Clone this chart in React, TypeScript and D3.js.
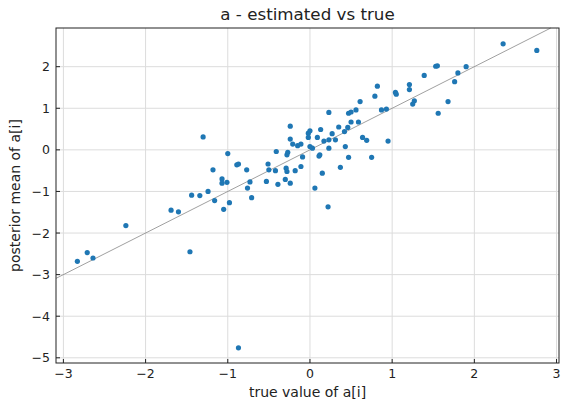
import React from "react";
import { scaleLinear } from "d3";

// true value of a[i]
const trueVals = [
  -1.69, -1.6, -1.3, -1.44, -1.34, -1.24, -1.18, -1.16, -1.07, -1.07, -1.01, -1.05, -0.98, -1.0,
  -0.89, -0.87, -0.77, -0.76, -0.73, -0.71, -0.53, -0.51, -0.5, -0.42, -0.41, -0.39, -0.3, -0.29,
  -0.28, -0.24, -0.28, -0.27, -0.24, -0.24, -0.21, -0.18, -0.15, -0.11, -0.11, -0.09,
  -0.02, 0.0, -0.02, 0.0, 0.03, 0.13, 0.09, 0.17, 0.23, 0.23, 0.23, 0.12, 0.11, 0.15, 0.06, 0.22,
  0.27, 0.31, 0.35, 0.42, 0.46, 0.43, 0.47, 0.37, 0.47, 0.5, 0.5, 0.56, 0.59, 0.61, 0.64, 0.69,
  0.75, 0.79, 0.82, 0.87, 0.93, 0.95, 1.04, 1.05, 1.21, 1.21, 1.27, 1.25, 1.39, 1.53, 1.55, 1.56,
  1.68, 1.76, 1.8, 1.9, 2.35, 2.76,
  -2.83, -2.71, -2.64, -2.24, -1.46, -0.87,
];
// posterior mean of a[i]
const postMeans = [
  -1.45, -1.49, 0.31, -1.09, -1.1, -1.0, -0.48, -1.22, -0.7, -0.8, -0.78, -1.43, -1.27, -0.09,
  -0.36, -0.34, -0.48, -0.92, -0.77, -1.15, -0.76, -0.34, -0.48, -0.5, -0.04, -0.83, -0.71, -0.44,
  -0.52, -0.8, -0.12, -0.06, 0.57, 0.26, 0.14, -0.5, 0.1, 0.14, -0.4, -0.17,
  0.4, 0.46, 0.3, 0.08, 0.04, 0.49, 0.3, 0.21, 0.24, 0.9, 0.04, -0.12, -0.15, -0.56, -0.92, -1.37,
  0.39, 0.24, 0.55, 0.44, 0.54, 0.08, -0.18, -0.42, 0.88, 0.91, 0.67, 0.96, 0.67, 1.16, 0.3, 0.23,
  -0.18, 1.29, 1.53, 0.96, 0.98, 0.21, 1.38, 1.34, 1.57, 1.45, 1.18, 1.1, 1.79, 2.01, 2.02, 0.88,
  1.16, 1.64, 1.85, 2.0, 2.55, 2.39,
  -2.68, -2.47, -2.6, -1.82, -2.45, -4.76,
];

const xTicks = [-3, -2, -1, 0, 1, 2, 3];
const yTicks = [-5, -4, -3, -2, -1, 0, 1, 2];
const xDomain = [-3.09, 3.03];
const yDomain = [-5.125, 2.93];

const W = 562;
const H = 402;
const m = { left: 56, right: 3, top: 28, bottom: 39 };
const font = "DejaVu Sans, sans-serif";
const fmt = (v: number) => String(v).replace("-", "\u2212");

export default function App() {
  const x = scaleLinear().domain(xDomain).range([m.left, W - m.right]);
  const y = scaleLinear().domain(yDomain).range([H - m.bottom, m.top]);
  const [x0, x1] = x.range();
  const [y0, y1] = y.range();
  const lo = Math.max(xDomain[0], yDomain[0]);
  const hi = Math.min(xDomain[1], yDomain[1]);

  return (
    <svg width={W} height={H} style={{ position: "absolute", left: 0, top: 0, background: "#fff" }} fontFamily={font}>
      {/* grid */}
      {xTicks.map(t => (
        <line key={"gx" + t} x1={x(t)} x2={x(t)} y1={y1} y2={y0} stroke="#dcdcdc" strokeWidth={1} />
      ))}
      {yTicks.map(t => (
        <line key={"gy" + t} x1={x0} x2={x1} y1={y(t)} y2={y(t)} stroke="#dcdcdc" strokeWidth={1} />
      ))}
      {/* identity line */}
      <line x1={x(lo)} y1={y(lo)} x2={x(hi)} y2={y(hi)} stroke="#888" strokeWidth={0.8} />
      {trueVals.map((v, i) => (
        <circle key={i} cx={x(v)} cy={y(postMeans[i])} r={2.6} fill="#1f77b4" />
      ))}
      {/* frame */}
      <rect x={x0} y={y1} width={x1 - x0} height={y0 - y1} fill="none" stroke="#222" strokeWidth={1} />
      {/* ticks */}
      {xTicks.map(t => (
        <g key={"tx" + t}>
          <line x1={x(t)} x2={x(t)} y1={y0} y2={y0 - 4} stroke="#222" />
          <text x={x(t)} y={y0 + 15} textAnchor="middle" fontSize={12.5} fill="#222">{fmt(t)}</text>
        </g>
      ))}
      {yTicks.map(t => (
        <g key={"ty" + t}>
          <line x1={x0} x2={x0 + 4} y1={y(t)} y2={y(t)} stroke="#222" />
          <text x={x0 - 6} y={y(t) + 4.5} textAnchor="end" fontSize={12.5} fill="#222">{fmt(t)}</text>
        </g>
      ))}
      <text x={(x0 + x1) / 2} y={20} textAnchor="middle" fontSize={16.7} fill="#222">a - estimated vs true</text>
      <text x={(x0 + x1) / 2} y={397} textAnchor="middle" fontSize={14} fill="#222">true value of a[i]</text>
      <text transform={`translate(19.5,${(y0 + y1) / 2}) rotate(-90)`} textAnchor="middle" fontSize={14} fill="#222">posterior mean of a[i]</text>
    </svg>
  );
}
